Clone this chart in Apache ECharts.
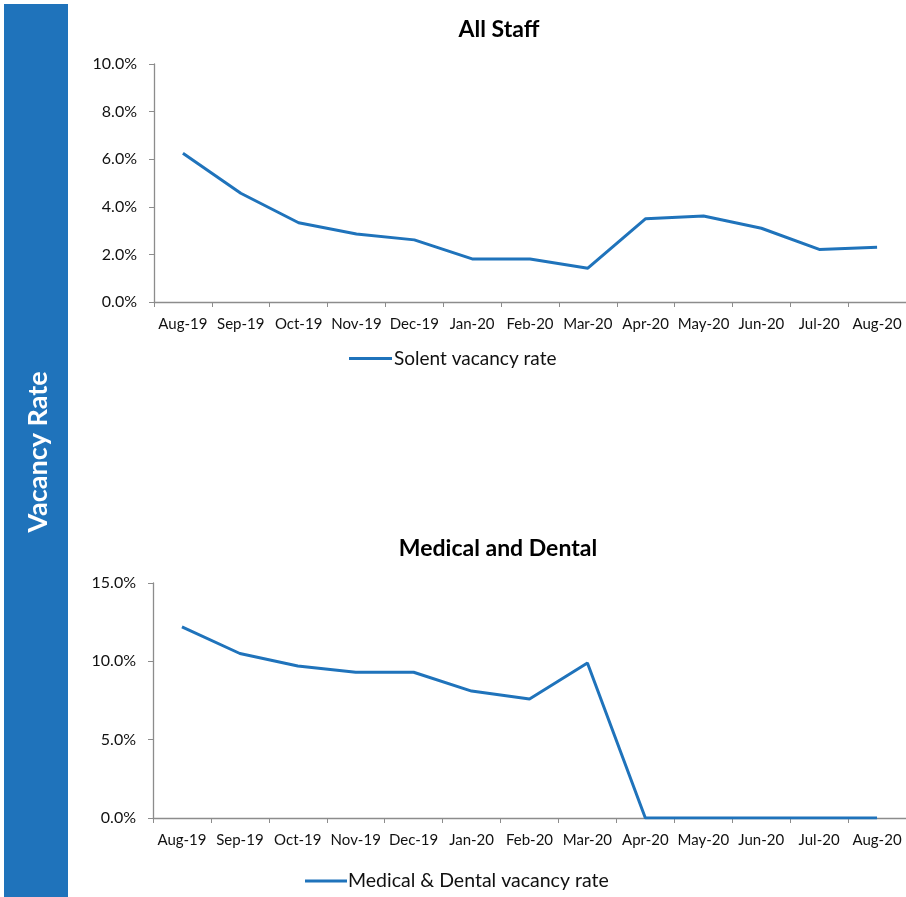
<!DOCTYPE html>
<html>
<head>
<meta charset="utf-8">
<script src="https://cdn.jsdelivr.net/npm/echarts@6/dist/echarts.min.js"></script>
<style>
  html, body { margin: 0; padding: 0; background: #fff; }
  #chart { width: 906px; height: 897px; }
</style>
</head>
<body>
<div id="chart"></div>
<script>
// Monthly categories shared by both panels
const months = ['Aug-19', 'Sep-19', 'Oct-19', 'Nov-19', 'Dec-19', 'Jan-20', 'Feb-20',
                'Mar-20', 'Apr-20', 'May-20', 'Jun-20', 'Jul-20', 'Aug-20'];

// Vacancy rates in percent
const solentRate = [6.25, 4.57, 3.33, 2.86, 2.61, 1.81, 1.81, 1.42, 3.5, 3.61, 3.1, 2.21, 2.3];
const medicalDentalRate = [12.2, 10.5, 9.7, 9.3, 9.3, 8.1, 7.6, 9.9, 0, 0, 0, 0, 0];

// Axis tick settings (percent)
const topAxis = { min: 0, max: 10, interval: 2 };
const bottomAxis = { min: 0, max: 15, interval: 5 };

const blue = '#1f73bb';
const axisGrey = '#8c8c8c';
const font = 'Lato, "Open Sans", "Noto Sans", sans-serif';

const pct = v => v.toFixed(1) + '%';

function xAxisFor(gridIndex) {
  return {
    type: 'category',
    gridIndex,
    data: months,
    boundaryGap: true,
    axisLine: { lineStyle: { color: axisGrey, width: 1.3 } },
    axisTick: { show: true, length: 5, lineStyle: { color: axisGrey } },
    axisLabel: { interval: 0, color: '#111', fontSize: 15, fontFamily: font, margin: 15 },
    splitLine: { show: false }
  };
}

function yAxisFor(gridIndex, cfg) {
  return {
    type: 'value',
    gridIndex,
    min: cfg.min, max: cfg.max, interval: cfg.interval,
    axisLine: { show: true, lineStyle: { color: axisGrey, width: 1.3 } },
    axisTick: { show: true, length: 5, lineStyle: { color: axisGrey } },
    axisLabel: { color: '#111', fontSize: 16, fontFamily: font, margin: 17, formatter: pct },
    splitLine: { show: false }
  };
}

const chart = echarts.init(document.getElementById('chart'), null, { renderer: 'canvas' });

chart.setOption({
  animation: false,
  backgroundColor: '#ffffff',
  title: [
    {
      text: 'All Staff', left: 494, top: 13, textAlign: 'center',
      textStyle: { fontSize: 23, fontWeight: 'bold', color: '#000', fontFamily: font }
    },
    {
      text: 'Medical and Dental', left: 493, top: 532, textAlign: 'center',
      textStyle: { fontSize: 23, fontWeight: 'bold', color: '#000', fontFamily: font }
    }
  ],
  legend: [
    {
      data: ['Solent vacancy rate'],
      left: 344, top: 344,
      icon: 'rect', itemWidth: 43, itemHeight: 3,
      textStyle: { fontSize: 19, color: '#111', fontFamily: font, padding: [0, 0, 0, -3] }
    },
    {
      data: ['Medical & Dental vacancy rate'],
      left: 300, top: 866,
      icon: 'rect', itemWidth: 42, itemHeight: 3,
      textStyle: { fontSize: 19.5, color: '#111', fontFamily: font, padding: [0, 0, 0, -4] }
    }
  ],
  grid: [
    { left: 154, right: 0, top: 64, height: 238 },
    { left: 153, right: 0, top: 583, height: 235 }
  ],
  xAxis: [xAxisFor(0), xAxisFor(1)],
  yAxis: [yAxisFor(0, topAxis), yAxisFor(1, bottomAxis)],
  series: [
    {
      name: 'Solent vacancy rate',
      type: 'line',
      xAxisIndex: 0, yAxisIndex: 0,
      data: solentRate,
      symbol: 'none',
      lineStyle: { color: blue, width: 3 },
      itemStyle: { color: blue }
    },
    {
      name: 'Medical & Dental vacancy rate',
      type: 'line',
      xAxisIndex: 1, yAxisIndex: 1,
      data: medicalDentalRate,
      symbol: 'none',
      lineStyle: { color: blue, width: 3 },
      itemStyle: { color: blue }
    }
  ],
  graphic: [
    {
      type: 'rect',
      shape: { x: 4, y: 4, width: 64, height: 893 },
      style: { fill: blue },
      silent: true
    },
    {
      type: 'text',
      x: 38, y: 452,
      rotation: Math.PI / 2,
      style: {
        text: 'Vacancy Rate',
        fill: '#ffffff',
        font: 'bold 27px ' + font,
        align: 'center',
        verticalAlign: 'middle'
      },
      silent: true
    }
  ]
});
</script>
</body>
</html>
